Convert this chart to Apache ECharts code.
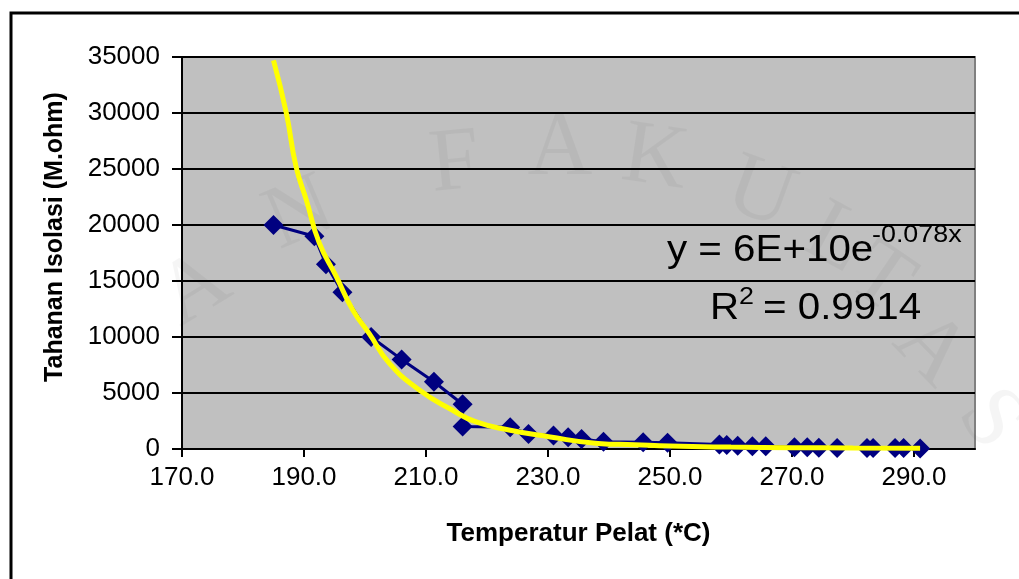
<!DOCTYPE html>
<html>
<head>
<meta charset="utf-8">
<title>Tahanan Isolasi vs Temperatur Pelat</title>
<script src="https://cdn.jsdelivr.net/npm/echarts@6/dist/echarts.min.js"></script>
<style>
  html, body { margin: 0; padding: 0; background: #fff; }
  #chart { width: 1019px; height: 579px; }
</style>
</head>
<body>
<div id="chart"></div>
<script>
// measured points (temperature in *C, resistance in M.ohm)
const tempC = [185, 191.7, 193.6, 196.3, 201, 206, 211.3, 216, 216, 223.8, 226.8, 230.9, 233.3, 235.5, 239.1,
  245.6, 249.6, 258.1, 259.3, 261.1, 263.5, 265.7, 270.4, 272.5, 274.4, 277.4, 282.3, 283.3, 286.9, 288.3, 291];
const resistance = [20000, 19000, 16500, 14000, 10000, 8000, 6000, 4000, 2000, 1950, 1350, 1200, 1050, 900, 650,
  600, 550, 400, 350, 300, 250, 250, 150, 150, 120, 100, 100, 100, 80, 80, 50];

// exponential trendline
const trendTemp = [185, 187.1, 188.7, 190.4, 192.5, 195.3, 198, 200.7, 204, 208.9, 214.3, 218.1, 223.6, 230.1,
  238.2, 244.2, 250, 260, 270, 280, 291];
const trendResist = [34700, 30000, 25200, 22200, 18400, 15400, 12400, 10300, 7650, 5270, 3480, 2440, 1700, 1100,
  500, 380, 260, 170, 120, 90, 70];

const xTicks = { min: 170, max: 300, step: 20 };
const yTicks = { min: 0, max: 35000, step: 5000 };

const chart = echarts.init(document.getElementById('chart'));

const font = '"Liberation Sans", Arial, sans-serif';

// faint watermark letters behind the plot
const watermark = [
  ['A', 195, 290, 0.55], ['N', 300, 215, 0.4], ['F', 455, 165, 0.1], ['A', 560, 150, 0],
  ['K', 655, 160, -0.15], ['U', 760, 195, -0.35], ['L', 835, 240, -0.5], ['T', 880, 280, -0.6],
  ['A', 930, 350, -0.8], ['S', 990, 420, -0.95]
].map(([ch, x, y, r]) => ({
  type: 'text', x: x, y: y, rotation: r, z: 0, silent: true,
  style: { text: ch, font: '90px "Liberation Serif", serif', fill: 'rgba(0,0,0,0.04)', align: 'center', verticalAlign: 'middle' }
}));

// equation label, the picture is a little stretched sideways
const eqText = (text, x, y, size) => ({
  type: 'text', x: x, y: y, z: 100, scaleX: 1.12,
  style: { text: text, font: size + 'px ' + font, fill: '#000', verticalAlign: 'middle' }
});

const option = {
  backgroundColor: '#ffffff',
  animation: false,
  grid: {
    left: 182, right: 44, top: 57, bottom: 130,
    show: true,
    backgroundColor: '#c0c0c0',
    borderColor: '#808080',
    borderWidth: 2
  },
  xAxis: {
    type: 'value',
    min: xTicks.min, max: xTicks.max, interval: xTicks.step,
    name: 'Temperatur Pelat (*C)',
    nameLocation: 'middle',
    nameGap: 72,
    nameTextStyle: { fontFamily: font, fontSize: 26, fontWeight: 'bold', color: '#000' },
    axisLine: { show: true, onZero: false, lineStyle: { color: '#000', width: 2 } },
    axisTick: { show: true, inside: false, length: 8, lineStyle: { color: '#000', width: 2 } },
    axisLabel: {
      fontFamily: font, fontSize: 26, color: '#000', margin: 16,
      showMaxLabel: false,
      formatter: v => v.toFixed(1)
    },
    splitLine: { show: false }
  },
  yAxis: {
    type: 'value',
    min: yTicks.min, max: yTicks.max, interval: yTicks.step,
    name: 'Tahanan Isolasi (M.ohm)',
    nameLocation: 'middle',
    nameGap: 114,
    nameTextStyle: { fontFamily: font, fontSize: 25, fontWeight: 'bold', color: '#000', padding: [0, 0, 0, 32] },
    axisLine: { show: true, lineStyle: { color: '#000', width: 2 } },
    axisTick: { show: true, inside: false, length: 10, lineStyle: { color: '#000', width: 2 } },
    axisLabel: { fontFamily: font, fontSize: 26, color: '#000', margin: 22, formatter: v => String(v) },
    splitLine: { show: true, lineStyle: { color: '#000', width: 2 } }
  },
  graphic: [
    // outer frame, only left and top edges show in the picture
    {
      type: 'polyline', z: 1, silent: true,
      shape: { points: [[11, 579], [11, 13], [1019, 13]] },
      style: { stroke: '#000', lineWidth: 3, fill: null }
    },
    ...watermark,
    eqText('y = 6E+10e', 667, 251, 36),
    eqText('-0.078x', 872, 235, 24),
    eqText('R', 710, 309, 36),
    eqText('2', 739, 297, 24),
    eqText('= 0.9914', 763, 309, 36)
  ],
  series: [
    {
      name: 'Tahanan Isolasi',
      type: 'line',
      data: tempC.map((t, i) => [t, resistance[i]]),
      symbol: 'diamond',
      symbolSize: 20,
      itemStyle: { color: '#000080' },
      lineStyle: { color: '#000080', width: 3 },
      z: 3
    },
    {
      name: 'Trendline',
      type: 'line',
      data: trendTemp.map((t, i) => [t, trendResist[i]]),
      smooth: true,
      showSymbol: false,
      lineStyle: { color: '#ffff00', width: 5 },
      z: 4
    }
  ]
};

chart.setOption(option);
</script>
</body>
</html>
